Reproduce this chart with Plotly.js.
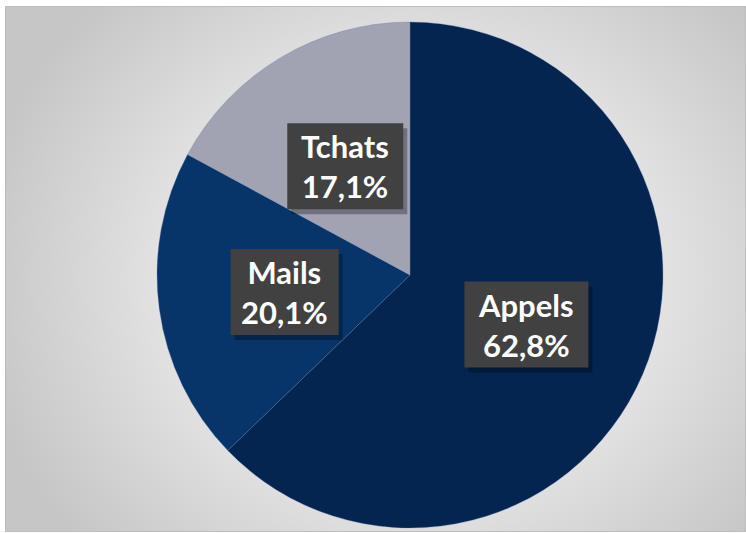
<!DOCTYPE html>
<html>
<head>
<meta charset="utf-8">
<script src="https://cdn.plot.ly/plotly-3.0.1.min.js"></script>
<style>
  html, body { margin: 0; padding: 0; background: #ffffff; }
  #frame {
    position: absolute; left: 5px; top: 6px; width: 739px; height: 524px;
    border: 1px solid #bdbdbd;
    background: radial-gradient(ellipse 60% 75% at 55% 52%, #efefef 0%, #e3e3e3 55%, #c6c6c6 100%);
  }
  #chart { position: absolute; left: 0; top: 0; width: 746px; height: 533px; }
</style>
</head>
<body>
<div id="frame"></div>
<div id="chart"></div>
<script>
const categories = ["Appels", "Mails", "Tchats"];
const values = [62.8, 20.1, 17.1];
const valueLabels = ["62,8%", "20,1%", "17,1%"];
const colors = ["#042550", "#07356a", "#a1a3b3"];

const W = 746, H = 533;
const cx = 410, cy = 275, R = 253;
const boxW = [124, 108, 116], boxH = 86;

const trace = {
  type: "pie",
  labels: categories,
  values: values,
  sort: false,
  direction: "clockwise",
  rotation: 0,
  textinfo: "none",
  hoverinfo: "label+percent",
  marker: { colors: colors, line: { color: "rgba(90,120,170,0.5)", width: 0.6 } },
  domain: { x: [(cx - R) / W, (cx + R) / W], y: [1 - (cy + R) / H, 1 - (cy - R) / H] },
  showlegend: false
};

// label positions computed from slice mid-angles
const total = values.reduce((a, b) => a + b, 0);
let cum = 0;
const annotations = [];
const shapes = [];
values.forEach((v, i) => {
  const mid = (cum + v / 2) / total * 2 * Math.PI; // clockwise from 12 o'clock
  cum += v;
  const px = cx + 0.5 * R * Math.sin(mid);
  const py = cy - 0.5 * R * Math.cos(mid);
  const hw = boxW[i] / 2, hh = boxH / 2;
  shapes.push({
    type: "rect", xref: "paper", yref: "paper", layer: "above",
    x0: (px - hw + 4) / W, x1: (px + hw + 4) / W,
    y0: 1 - (py + hh + 5) / H, y1: 1 - (py - hh + 5) / H,
    fillcolor: "rgba(0,0,0,0.3)", line: { width: 0 }
  });
  shapes.push({
    type: "rect", xref: "paper", yref: "paper", layer: "above",
    x0: (px - hw) / W, x1: (px + hw) / W,
    y0: 1 - (py + hh) / H, y1: 1 - (py - hh) / H,
    fillcolor: "#414141", line: { width: 0 }
  });
  annotations.push({
    xref: "paper", yref: "paper", x: px / W, y: 1 - py / H,
    xanchor: "center", yanchor: "middle",
    text: "<b>" + categories[i] + "<br>" + valueLabels[i] + "</b>", showarrow: false,
    font: { family: "Lato, 'DejaVu Sans', sans-serif", size: 31, color: "#ffffff" },
    align: "center"
  });
});

const layout = {
  width: W, height: H,
  margin: { l: 0, r: 0, t: 0, b: 0 },
  paper_bgcolor: "rgba(0,0,0,0)",
  plot_bgcolor: "rgba(0,0,0,0)",
  shapes: shapes,
  annotations: annotations
};

Plotly.newPlot("chart", [trace], layout, { displayModeBar: false, staticPlot: true });
</script>
</body>
</html>
